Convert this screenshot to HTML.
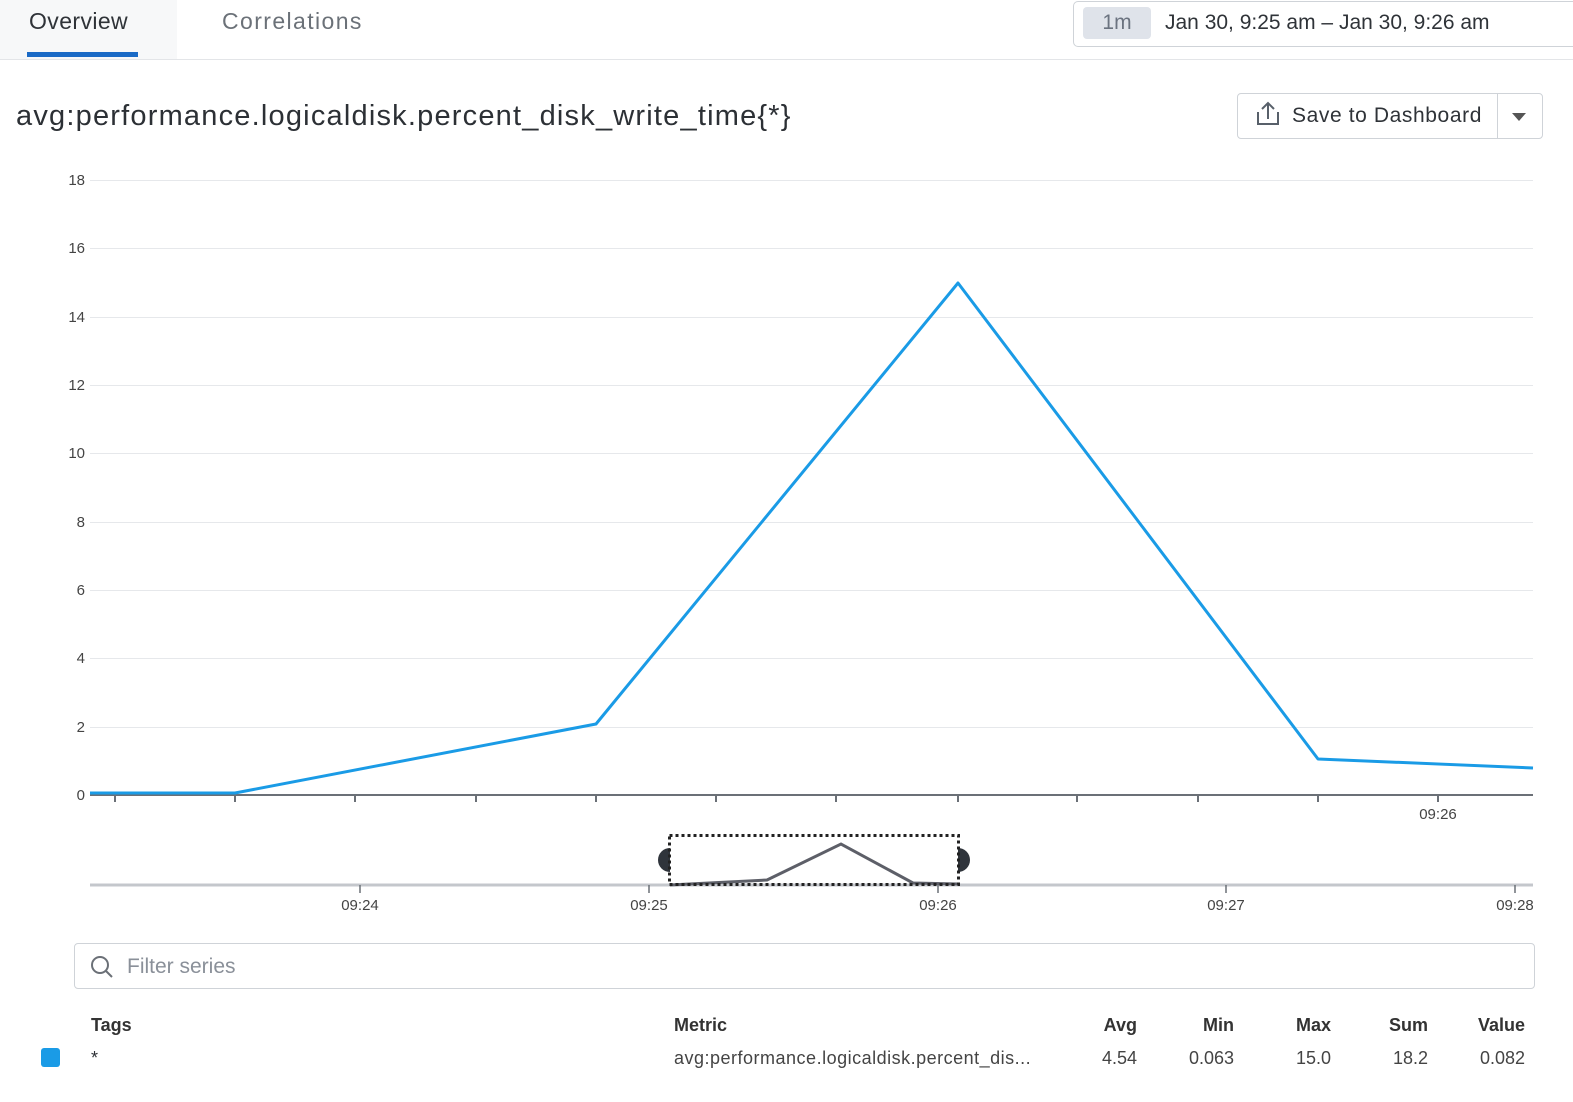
<!DOCTYPE html>
<html><head><meta charset="utf-8"><style>
body{margin:0;width:1573px;height:1102px;background:#fff;font-family:"Liberation Sans",sans-serif;position:relative;overflow:hidden;color:#2c3035}
.a{position:absolute;white-space:nowrap}
</style></head><body>
<div class="a" style="left:0;top:0;width:177px;height:59px;background:#f7f8f9"></div>
<div class="a" style="left:29px;top:8px;font-size:23px;color:#2f3338;letter-spacing:0.4px">Overview</div>
<div class="a" style="left:27px;top:52px;width:111px;height:5px;background:#1a6ac6"></div>
<div class="a" style="left:222px;top:8px;font-size:23px;color:#6b7178;letter-spacing:1.4px">Correlations</div>
<div class="a" style="left:0;top:59px;width:1573px;height:1px;background:#e3e5e8"></div>
<div class="a" style="left:1073px;top:1px;width:520px;height:44px;border:1px solid #cfd3d8;border-radius:5px"></div>
<div class="a" style="left:1083px;top:7px;width:68px;height:32px;background:#dfe3ea;border-radius:4px;color:#6b7380;font-size:21px;text-align:center;line-height:32px">1m</div>
<div class="a" style="left:1165px;top:11px;font-size:21px;color:#2f3338">Jan 30, 9:25 am – Jan 30, 9:26 am</div>
<div class="a" style="left:16px;top:100px;font-size:29px;color:#2c3035;letter-spacing:1.2px">avg:performance.logicaldisk.percent_disk_write_time{*}</div>
<div class="a" style="left:1237px;top:93px;width:304px;height:44px;border:1px solid #cfd3d8;border-radius:4px"></div>
<div class="a" style="left:1497px;top:93px;width:1px;height:46px;background:#cfd3d8"></div>
<div class="a" style="left:1292px;top:104px;font-size:21px;color:#2f3338;letter-spacing:0.6px">Save to Dashboard</div>
<svg class="a" style="left:0;top:0" width="1573" height="1102">
<g stroke="#58606a" stroke-width="2" fill="none"><path d="M1258 112v12h20v-12M1268 119v-16M1262 109l6-6 6 6"/></g>
<path d="M1512 113h14l-7 8z" fill="#555"/>
<g stroke="#e6e8eb" stroke-width="1">
<line x1="90" x2="1533" y1="180.5" y2="180.5"/><line x1="90" x2="1533" y1="248.5" y2="248.5"/><line x1="90" x2="1533" y1="317.5" y2="317.5"/><line x1="90" x2="1533" y1="385.5" y2="385.5"/><line x1="90" x2="1533" y1="453.5" y2="453.5"/><line x1="90" x2="1533" y1="522.5" y2="522.5"/><line x1="90" x2="1533" y1="590.5" y2="590.5"/><line x1="90" x2="1533" y1="658.5" y2="658.5"/><line x1="90" x2="1533" y1="727.5" y2="727.5"/></g>
<g font-size="15" fill="#444" text-anchor="end" font-family="Liberation Sans">
<text x="85" y="185">18</text><text x="85" y="253">16</text><text x="85" y="322">14</text><text x="85" y="390">12</text><text x="85" y="458">10</text><text x="85" y="527">8</text><text x="85" y="595">6</text><text x="85" y="663">4</text><text x="85" y="732">2</text><text x="85" y="800">0</text></g>
<line x1="90" x2="1533" y1="795" y2="795" stroke="#6b7077" stroke-width="2"/>
<g stroke="#6b7077" stroke-width="2">
<line x1="115" x2="115" y1="795" y2="802"/><line x1="235" x2="235" y1="795" y2="802"/><line x1="355" x2="355" y1="795" y2="802"/><line x1="476" x2="476" y1="795" y2="802"/><line x1="596" x2="596" y1="795" y2="802"/><line x1="716" x2="716" y1="795" y2="802"/><line x1="836" x2="836" y1="795" y2="802"/><line x1="958" x2="958" y1="795" y2="802"/><line x1="1077" x2="1077" y1="795" y2="802"/><line x1="1198" x2="1198" y1="795" y2="802"/><line x1="1318" x2="1318" y1="795" y2="802"/><line x1="1438" x2="1438" y1="795" y2="802"/></g>
<text x="1438" y="819" font-size="15" fill="#444" text-anchor="middle">09:26</text>
<polyline points="90,793 235,793 596,724 958,283 1318,759 1533,768" fill="none" stroke="#1a9be6" stroke-width="3" stroke-linejoin="round"/>
<line x1="90" x2="1533" y1="885" y2="885" stroke="#c4c7cc" stroke-width="3"/>
<polyline points="670,885 767,880 841,844 913,883 958,884" fill="none" stroke="#5d5f68" stroke-width="3"/>
<g stroke="#6b7077" stroke-width="1.5"><line x1="360" x2="360" y1="885" y2="893"/><line x1="649" x2="649" y1="885" y2="893"/><line x1="938" x2="938" y1="885" y2="893"/><line x1="1226" x2="1226" y1="885" y2="893"/><line x1="1515" x2="1515" y1="885" y2="893"/></g>
<g font-size="15" fill="#444" text-anchor="middle"><text x="360" y="910">09:24</text><text x="649" y="910">09:25</text><text x="938" y="910">09:26</text><text x="1226" y="910">09:27</text><text x="1515" y="910">09:28</text></g>
<path d="M670 848a12 12 0 0 0 0 24z" fill="#2f343b"/><path d="M958 848a12 12 0 0 1 0 24z" fill="#2f343b"/>
<rect x="669.5" y="835.5" width="289" height="49" fill="none" stroke="#222" stroke-width="3" stroke-dasharray="3,3"/>
<circle cx="100" cy="965" r="8" fill="none" stroke="#6b7077" stroke-width="2"/><line x1="106" y1="971" x2="112" y2="977" stroke="#6b7077" stroke-width="2"/>
</svg>
<div class="a" style="left:74px;top:943px;width:1459px;height:44px;border:1px solid #cfd3d8;border-radius:4px"></div>
<div class="a" style="left:127px;top:955px;font-size:21px;color:#8a9099">Filter series</div>
<div class="a" style="left:91px;top:1015px;font-size:18px;font-weight:bold;color:#333">Tags</div>
<div class="a" style="left:674px;top:1015px;font-size:18px;font-weight:bold;color:#333">Metric</div>
<div class="a" style="left:1037px;top:1015px;width:100px;text-align:right;font-size:18px;font-weight:bold;color:#333">Avg</div>
<div class="a" style="left:1134px;top:1015px;width:100px;text-align:right;font-size:18px;font-weight:bold;color:#333">Min</div>
<div class="a" style="left:1231px;top:1015px;width:100px;text-align:right;font-size:18px;font-weight:bold;color:#333">Max</div>
<div class="a" style="left:1328px;top:1015px;width:100px;text-align:right;font-size:18px;font-weight:bold;color:#333">Sum</div>
<div class="a" style="left:1425px;top:1015px;width:100px;text-align:right;font-size:18px;font-weight:bold;color:#333">Value</div>
<div class="a" style="left:41px;top:1048px;width:19px;height:19px;background:#1a9be6;border-radius:3px"></div>
<div class="a" style="left:91px;top:1048px;font-size:18px">*</div>
<div class="a" style="left:674px;top:1048px;font-size:18px;color:#444;letter-spacing:0.5px">avg:performance.logicaldisk.percent_dis...</div>
<div class="a" style="left:1037px;top:1048px;width:100px;text-align:right;font-size:18px;color:#444">4.54</div>
<div class="a" style="left:1134px;top:1048px;width:100px;text-align:right;font-size:18px;color:#444">0.063</div>
<div class="a" style="left:1231px;top:1048px;width:100px;text-align:right;font-size:18px;color:#444">15.0</div>
<div class="a" style="left:1328px;top:1048px;width:100px;text-align:right;font-size:18px;color:#444">18.2</div>
<div class="a" style="left:1425px;top:1048px;width:100px;text-align:right;font-size:18px;color:#444">0.082</div>
</body></html>
